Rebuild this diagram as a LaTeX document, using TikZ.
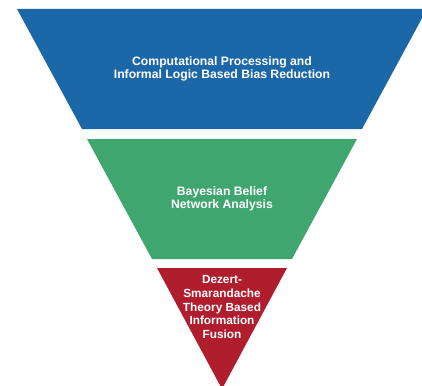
\documentclass[tikz,border=0pt]{standalone}
\usepackage{fontspec}
\setmainfont{Liberation Sans}
\usepackage{tikz}

\definecolor{layerblue}{RGB}{28,103,168}
\definecolor{layergreen}{RGB}{64,166,112}
\definecolor{layerred}{RGB}{176,30,46}

\tikzset{
    layertext/.style={text=white, align=center, font=\bfseries\fontsize{12.2}{13.4}\selectfont, inner sep=0pt}
}

\begin{document}
\begin{tikzpicture}[x=1pt, y=-1pt]
    \useasboundingbox (0,0) rectangle (422,385);
    \clip (0,0) rectangle (422,385);

    % --- Couche haute ---
    \fill[layerblue] (17,9) -- (427,9) -- (362,129) -- (82,129) -- cycle;
    \node[layertext] (bias) at (222,69) {Computational Processing and\\Informal Logic Based Bias Reduction};

    % --- Couche du milieu ---
    \fill[layergreen] (87,139) -- (357,139) -- (292,259) -- (152,259) -- cycle;
    \node[layertext] (bayes) at (222,199) {Bayesian Belief\\Network Analysis};

    % --- Pointe ---
    \fill[layerred] (157,268) -- (287,268) -- (222,389) -- cycle;
    \node[layertext, font=\bfseries\fontsize{11.8}{13.7}\selectfont] (fusion) at (222,307) {Dezert-\\Smarandache\\Theory Based\\Information\\Fusion};

\end{tikzpicture}
\end{document}
